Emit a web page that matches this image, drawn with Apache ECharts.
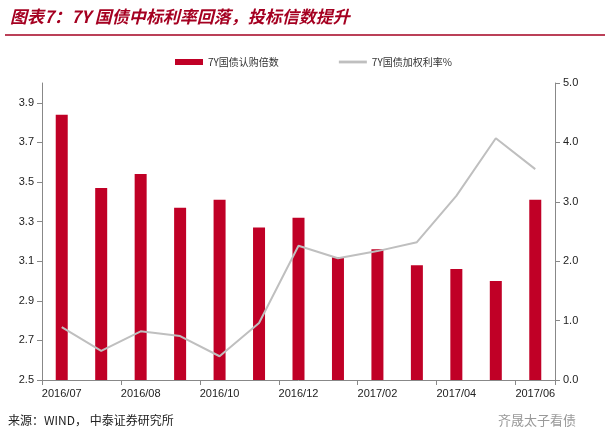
<!DOCTYPE html>
<html><head><meta charset="utf-8">
<script src="https://cdn.jsdelivr.net/npm/echarts@6/dist/echarts.min.js"></script>
<style>body{margin:0;background:#fff}#c{width:610px;height:438px}</style>
</head><body><div id="c"></div>
<script>
var categories = ['2016/07','2016/07 ','2016/08','2016/09','2016/10','2016/11','2016/12','2017/01','2017/02','2017/03','2017/04','2017/05','2017/06'];
var bidMultiple = [3.84,3.47,3.54,3.37,3.41,3.27,3.32,3.12,3.16,3.08,3.06,3.00,3.41];
var weightedRate = [0.89,0.49,0.82,0.74,0.40,0.96,2.26,2.05,2.17,2.32,3.10,4.07,3.55];

var myChart = echarts.init(document.getElementById('c'));
var option = {
    animation: false,
    graphic: [
        {type:'text', left:10, top:8, style:{text:'图表7：7Y 国债中标利率回落，投标信数提升', fill:'#a50021', font:'italic bold 17px "Noto Sans CJK SC"'}},
        {type:'line', shape:{x1:5,y1:35,x2:605,y2:35}, style:{stroke:'#a50021', lineWidth:1.5}},
        {type:'text', left:8, top:414, style:{text:'来源：WIND， 中泰证券研究所', fill:'#222', font:'12px "Noto Sans CJK SC"'}},
        {type:'text', left:498, top:414, style:{text:'齐晟太子看债', fill:'#999', font:'13px "Noto Sans CJK SC"'}}
    ],
    legend: {
        top: 52, left: 170, itemGap: 60,
        textStyle: {fontSize: 10, fontFamily: 'Noto Sans CJK SC', color: '#333'},
        data: [
            {name:'7Y国债认购倍数', icon:'rect'},
            {name:'7Y国债加权利率%', icon:'path://M0,0H10V1H0Z'}
        ],
        itemWidth: 28, itemHeight: 6
    },
    grid: {left: 42, right: 55, top: 83, bottom: 58},
    xAxis: {
        type: 'category', data: categories,
        axisTick: {show: true, alignWithLabel: false, lineStyle:{color:'#888'}},
        axisLine: {lineStyle:{color:'#888'}},
        axisLabel: {interval: 1, color: '#222', fontSize: 11, fontFamily: 'Liberation Sans', formatter: function(v){return v.trim();}}
    },
    yAxis: [
        {type:'value', min:2.5, max:4.0, interval:0.2, splitLine:{show:false},
         axisLine:{show:true, lineStyle:{color:'#888'}}, axisTick:{show:true},
         axisLabel:{showMaxLabel:false, color:'#222', fontSize:11, fontFamily:'Liberation Sans', formatter:function(v){return v.toFixed(1);}}},
        {type:'value', min:0, max:5, interval:1, splitLine:{show:false},
         axisLine:{show:true, lineStyle:{color:'#888'}}, axisTick:{show:true},
         axisLabel:{color:'#222', fontSize:11, fontFamily:'Liberation Sans', formatter:function(v){return v.toFixed(1);}}}
    ],
    series: [
        {name:'7Y国债认购倍数', type:'bar', data:bidMultiple, barWidth:12, itemStyle:{color:'#c00026'}},
        {name:'7Y国债加权利率%', type:'line', yAxisIndex:1, data:weightedRate, symbol:'none',
         lineStyle:{color:'#bfbfbf', width:2}, itemStyle:{color:'#bfbfbf'}}
    ]
};
myChart.setOption(option);
</script></body></html>
